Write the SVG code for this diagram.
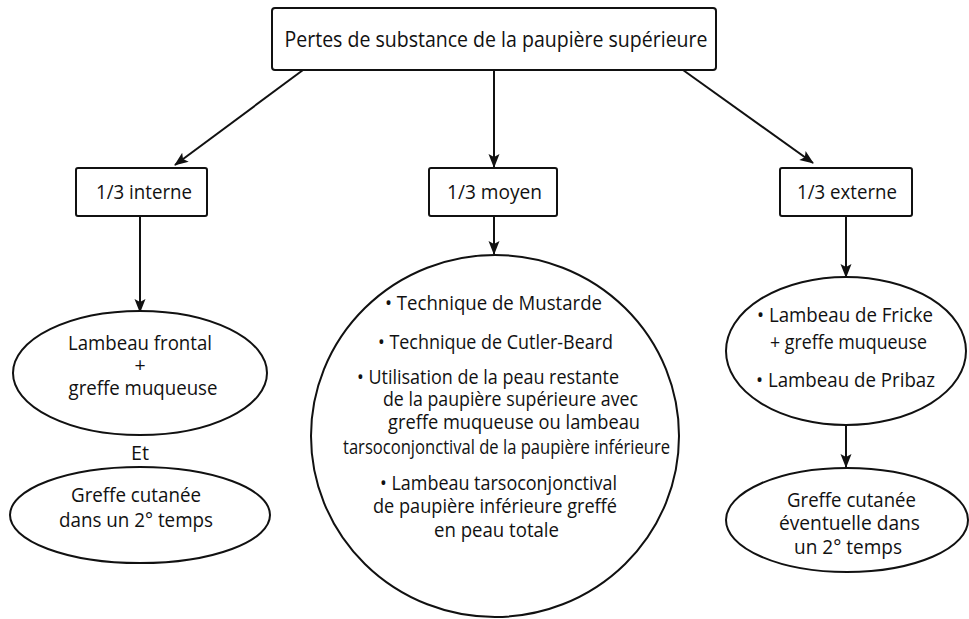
<svg xmlns="http://www.w3.org/2000/svg" width="969" height="619" viewBox="0 0 969 619">
<defs>
<marker id="ah" markerUnits="userSpaceOnUse" markerWidth="14" markerHeight="14" viewBox="0 0 14 14" refX="13" refY="7" orient="auto">
<path d="M0,1.5 L14,7 L0,12.5 L3,7 Z" fill="#111"/>
</marker>
<style>
.n{fill:#fff;stroke:#111;stroke-width:2}
.t{font-family:"Open Sans","Noto Sans","DejaVu Sans",sans-serif;font-size:19.5px;fill:#111;text-anchor:middle}
.c line{stroke:#111;stroke-width:2;marker-end:url(#ah)}
</style>
</defs>
<rect width="969" height="619" fill="#fff"/>
<g class="c" id="connectors">
<line x1="303" y1="70" x2="175" y2="165"/>
<line x1="494" y1="70" x2="494" y2="167"/>
<line x1="683" y1="70" x2="813" y2="163"/>
<line x1="140" y1="216" x2="140" y2="312"/>
<line x1="494" y1="216" x2="494" y2="254"/>
<line x1="846" y1="216" x2="846" y2="277"/>
<line x1="846" y1="425" x2="846" y2="467"/>
</g>
<g id="root">
<rect class="n" x="272" y="8" width="444" height="62" rx="3"/>
<text class="t" x="496" y="47" style="font-size:21.5px" textLength="423" lengthAdjust="spacingAndGlyphs">Pertes de substance de la paupière supérieure</text>
</g>
<g id="interne">
<rect class="n" x="76" y="168" width="131" height="48" rx="2"/>
<text class="t" x="144" y="199" textLength="96" lengthAdjust="spacingAndGlyphs">1/3 interne</text>
</g>
<g id="moyen">
<rect class="n" x="429" y="168" width="128" height="48" rx="2"/>
<text class="t" x="494.5" y="199" textLength="95" lengthAdjust="spacingAndGlyphs">1/3 moyen</text>
</g>
<g id="externe">
<rect class="n" x="780" y="168" width="132" height="48" rx="2"/>
<text class="t" x="847" y="199" textLength="100" lengthAdjust="spacingAndGlyphs">1/3 externe</text>
</g>
<g id="frontal">
<ellipse class="n" cx="140" cy="373" rx="127" ry="62"/>
<text class="t" x="140" y="350" textLength="144" lengthAdjust="spacingAndGlyphs">Lambeau frontal</text>
<text class="t" x="140" y="372">+</text>
<text class="t" x="143" y="395" textLength="149" lengthAdjust="spacingAndGlyphs">greffe muqueuse</text>
</g>
<g id="et">
<text class="t" x="140" y="460" textLength="18" lengthAdjust="spacingAndGlyphs">Et</text>
</g>
<g id="greffe-gauche">
<ellipse class="n" cx="140" cy="515" rx="130" ry="48"/>
<text class="t" x="136" y="502" textLength="130" lengthAdjust="spacingAndGlyphs">Greffe cutanée</text>
<text class="t" x="136" y="527" textLength="154" lengthAdjust="spacingAndGlyphs">dans un 2° temps</text>
</g>
<g id="techniques">
<ellipse class="n" cx="495" cy="436" rx="184" ry="181"/>
<text class="t" x="493.5" y="310" textLength="217" lengthAdjust="spacingAndGlyphs">• Technique de Mustarde</text>
<text class="t" x="495.5" y="349" textLength="235" lengthAdjust="spacingAndGlyphs">• Technique de Cutler-Beard</text>
<text class="t" x="488" y="384" textLength="262" lengthAdjust="spacingAndGlyphs">• Utilisation de la peau restante</text>
<text class="t" x="510.5" y="406" textLength="255" lengthAdjust="spacingAndGlyphs">de la paupière supérieure avec</text>
<text class="t" x="514" y="429" textLength="252" lengthAdjust="spacingAndGlyphs">greffe muqueuse ou lambeau</text>
<text class="t" x="506.5" y="454" textLength="327" lengthAdjust="spacingAndGlyphs">tarsoconjonctival de la paupière inférieure</text>
<text class="t" x="498.5" y="490" textLength="237" lengthAdjust="spacingAndGlyphs">• Lambeau tarsoconjonctival</text>
<text class="t" x="495" y="513" textLength="244" lengthAdjust="spacingAndGlyphs">de paupière inférieure greffé</text>
<text class="t" x="496.5" y="537" textLength="125" lengthAdjust="spacingAndGlyphs">en peau totale</text>
</g>
<g id="fricke">
<ellipse class="n" cx="846" cy="351" rx="120" ry="74"/>
<text class="t" x="845" y="322" textLength="176" lengthAdjust="spacingAndGlyphs">• Lambeau de Fricke</text>
<text class="t" x="848.5" y="349" textLength="157" lengthAdjust="spacingAndGlyphs">+ greffe muqueuse</text>
<text class="t" x="845.5" y="387" textLength="179" lengthAdjust="spacingAndGlyphs">• Lambeau de Pribaz</text>
</g>
<g id="greffe-droite">
<ellipse class="n" cx="847" cy="520" rx="121" ry="52"/>
<text class="t" x="851.5" y="507" textLength="129" lengthAdjust="spacingAndGlyphs">Greffe cutanée</text>
<text class="t" x="849.5" y="530" textLength="141" lengthAdjust="spacingAndGlyphs">éventuelle dans</text>
<text class="t" x="848" y="554" textLength="108" lengthAdjust="spacingAndGlyphs">un 2° temps</text>
</g>
</svg>
